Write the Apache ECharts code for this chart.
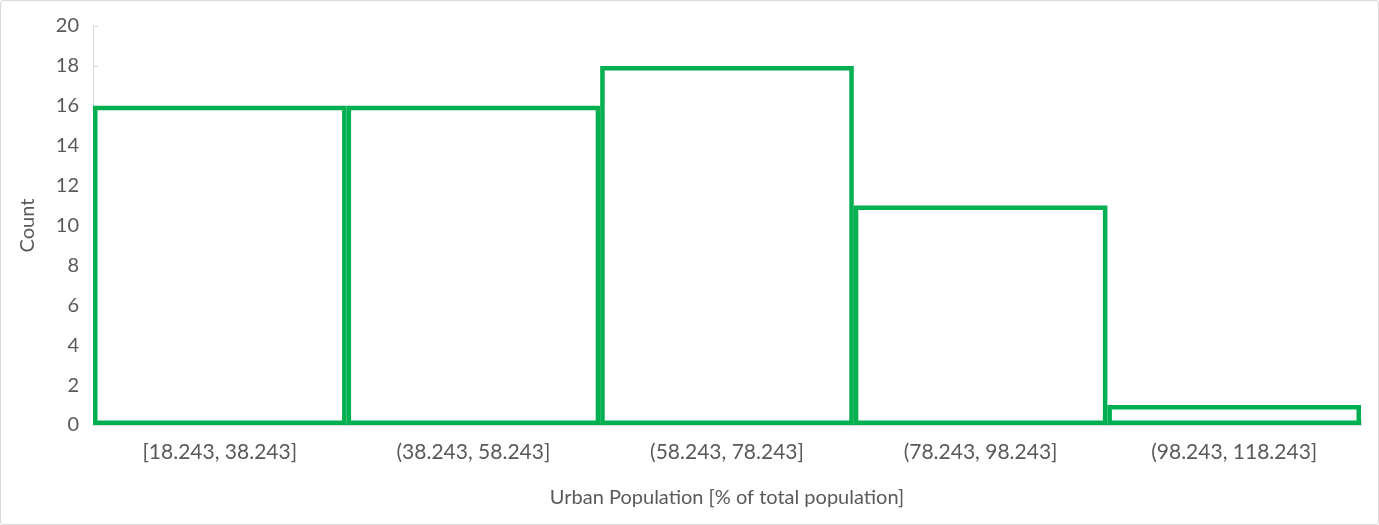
<!DOCTYPE html>
<html>
<head>
<meta charset="utf-8">
<script src="https://cdn.jsdelivr.net/npm/echarts@6/dist/echarts.min.js"></script>
<style>
html,body{margin:0;padding:0;background:#fff;}
#c{width:1377px;height:523px;border:1px solid #d9d9d9;border-radius:3px;}
</style>
</head>
<body>
<div id="c"></div>
<script>
const categories = ['[18.243, 38.243]', '(38.243, 58.243]', '(58.243, 78.243]', '(78.243, 98.243]', '(98.243, 118.243]'];
const counts = [16, 16, 18, 11, 1];
const yTicks = { min: 0, max: 20, interval: 2 };
const xName = 'Urban Population [% of total population]';
const yName = 'Count';

const chart = echarts.init(document.getElementById('c'));
chart.setOption({
  animation: false,
  textStyle: { fontFamily: 'Lato' },
  grid: { left: 92, right: 17, top: 25, bottom: 99, containLabel: false },
  xAxis: {
    type: 'category',
    data: categories,
    name: xName,
    nameLocation: 'middle',
    nameGap: 63,
    nameTextStyle: { fontSize: 20, color: '#595959' },
    axisLine: { show: true, lineStyle: { color: '#d9d9d9', width: 1 } },
    axisTick: { show: true, inside: true, length: 5, lineStyle: { color: '#d9d9d9' } },
    axisLabel: { fontSize: 21, color: '#595959', margin: 17 }
  },
  yAxis: {
    type: 'value',
    min: yTicks.min, max: yTicks.max, interval: yTicks.interval,
    name: yName,
    nameLocation: 'middle',
    nameGap: 55,
    nameRotate: 90,
    nameTextStyle: { fontSize: 20, color: '#595959' },
    axisLine: { show: true, lineStyle: { color: '#d9d9d9', width: 1 } },
    axisTick: { show: true, inside: true, length: 5, lineStyle: { color: '#d9d9d9' } },
    axisLabel: { fontSize: 20, color: '#595959', margin: 14 },
    splitLine: { show: false }
  },
  series: [{
    type: 'bar',
    data: counts,
    barCategoryGap: '0%',
    itemStyle: { color: '#ffffff', borderColor: '#00B050', borderWidth: 4.5 }
  }]
});
</script>
</body>
</html>
